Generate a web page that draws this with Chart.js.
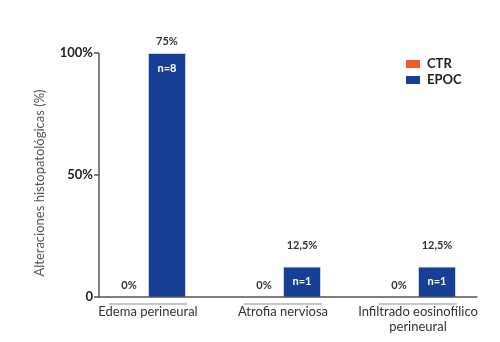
<!DOCTYPE html>
<html>
<head>
<meta charset="utf-8">
<script src="https://cdn.jsdelivr.net/npm/chart.js@4"></script>
<style>
  html, body { margin: 0; padding: 0; background: #fff; }
  #wrap { width: 500px; height: 342px; }
</style>
</head>
<body>
<div id="wrap"><canvas id="chart"></canvas></div>
<script>
// --- DATOS ---
const categories = ["Edema perineural", "Atrofia nerviosa", ["Infiltrado eosinofílico", "perineural"]];
const seriesNames = ["CTR", "EPOC"];
const ctrValues = [0, 0, 0];
const epocValues = [100, 12.5, 12.5];
const ctrLabels = ["0%", "0%", "0%"];
const epocLabels = ["75%", "12,5%", "12,5%"];
const nLabels = ["n=8", "n=1", "n=1"];
const yTicks = [0, 50, 100];
const yTickLabels = ["0", "50%", "100%"];
const yTitle = "Alteraciones histopatológicas (%)";

const colors = ["#f15a29", "#173f95"];
const FONT = "Lato, 'Open Sans', sans-serif";

// --- DECORACION: ejes, etiquetas, leyenda ---
const decor = {
  id: "decor",
  afterDraw(chart) {
    const ctx = chart.ctx;
    const area = chart.chartArea;
    const xs = chart.scales.x, ys = chart.scales.y;
    const axisX = 99;
    ctx.save();

    // subrayado gris bajo cada categoria
    ctx.strokeStyle = "#b5b5b5";
    ctx.lineWidth = 1.5;
    categories.forEach((c, j) => {
      const cx = xs.getPixelForValue(j);
      ctx.beginPath();
      ctx.moveTo(cx - 39, area.bottom + 7);
      ctx.lineTo(cx + 39, area.bottom + 7);
      ctx.stroke();
    });

    // ejes
    ctx.strokeStyle = "#555";
    ctx.lineWidth = 1.5;
    ctx.beginPath();
    ctx.moveTo(axisX, area.top);
    ctx.lineTo(axisX, area.bottom);
    ctx.lineTo(area.right - 8, area.bottom);
    ctx.stroke();

    // ticks Y
    ctx.font = "bold 13px " + FONT;
    ctx.fillStyle = "#222";
    ctx.textAlign = "right";
    ctx.textBaseline = "middle";
    yTicks.forEach((v, i) => {
      const py = ys.getPixelForValue(v);
      ctx.beginPath();
      ctx.moveTo(axisX - 5, py);
      ctx.lineTo(axisX, py);
      ctx.stroke();
      ctx.fillText(yTickLabels[i], axisX - 6, py);
    });

    // titulo Y
    ctx.save();
    ctx.translate(40, (area.top + area.bottom) / 2 + 8);
    ctx.rotate(-Math.PI / 2);
    ctx.textAlign = "center";
    ctx.font = "13px " + FONT;
    ctx.fillStyle = "#555";
    ctx.fillText(yTitle, 0, 0);
    ctx.restore();

    // etiquetas de barras
    const ctrMeta = chart.getDatasetMeta(0);
    const epocMeta = chart.getDatasetMeta(1);
    ctx.textAlign = "center";
    ctx.font = "bold 11px " + FONT;
    ctx.fillStyle = "#333";
    ctrMeta.data.forEach((bar, j) => {
      ctx.fillText(ctrLabels[j], bar.x, bar.y - 12);
    });
    epocMeta.data.forEach((bar, j) => {
      const ly = Math.max(bar.y - 21, area.top - 12);
      ctx.fillStyle = "#333";
      ctx.fillText(epocLabels[j], bar.x, ly);
      ctx.fillStyle = "#fff";
      ctx.fillText(nLabels[j], bar.x, bar.y + 15);
    });

    // leyenda
    ctx.textAlign = "left";
    ctx.font = "bold 13px " + FONT;
    seriesNames.forEach((name, i) => {
      const ly = 60 + i * 16;
      ctx.fillStyle = colors[i];
      ctx.fillRect(406, ly, 14, 8);
      ctx.fillStyle = "#222";
      ctx.fillText(name, 427, ly + 4);
    });

    ctx.restore();
  },
};

// --- GRAPHIQUE ---
new Chart(document.getElementById("chart"), {
  type: "bar",
  data: {
    labels: categories,
    datasets: [
      {
        label: seriesNames[0],
        data: ctrValues,
        backgroundColor: colors[0],
        borderWidth: 0,
      },
      {
        label: seriesNames[1],
        data: epocValues,
        backgroundColor: colors[1],
        borderColor: "#c8d2e6",
        borderWidth: 1,
      },
    ],
  },
  options: {
    responsive: true,
    maintainAspectRatio: false,
    animation: false,
    categoryPercentage: 76 / 135,
    barPercentage: 1.0,
    layout: { padding: { top: 53, right: 14.5, bottom: 0, left: 0 } },
    plugins: {
      legend: { display: false },
      tooltip: { enabled: false },
    },
    scales: {
      x: {
        grid: { display: false, drawTicks: false },
        border: { display: false },
        ticks: {
          padding: 8,
          color: "#333",
          font: { family: FONT, size: 13, lineHeight: 1.1 },
          maxRotation: 0,
          autoSkip: false,
        },
        afterFit: (s) => { s.height = 45; },
      },
      y: {
        min: 0,
        max: 100,
        grid: { display: false },
        border: { display: false },
        ticks: { display: false },
        afterFit: (s) => { s.width = 80.5; },
      },
    },
  },
  plugins: [decor],
});
</script>
</body>
</html>
